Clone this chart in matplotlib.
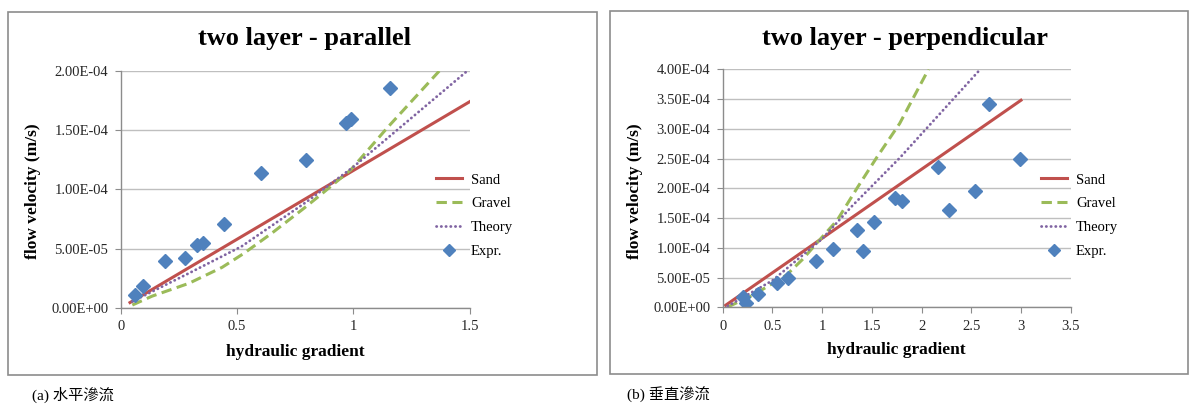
"""Two-layer seepage tests: flow velocity vs hydraulic gradient (parallel / perpendicular)."""

import matplotlib

matplotlib.use("Agg")
import matplotlib.pyplot as plt
from matplotlib.patches import Rectangle
from matplotlib.ticker import FuncFormatter, MultipleLocator

plt.rcParams.update({
    "font.family": ["Liberation Serif", "Noto Sans CJK TC"],
    "axes.linewidth": 1.0,
})

# values in 1e-6 m/s
# (a) parallel
par_sand_i = [0.04, 1.5]
par_sand_v = [4.6, 174.0]
par_gravel_i = [0.05, 0.135, 0.293, 0.436, 0.529, 0.649, 0.787, 0.859, 0.989, 1.146, 1.37]
par_gravel_v = [2.5, 10.0, 20.8, 34.3, 46.0, 63.0, 84.0, 95.4, 116.5, 152.0, 200.0]
par_theory_i = [0.05, 0.3, 0.52, 0.8, 1.0, 1.49]
par_theory_v = [5.5, 30.0, 52.0, 89.7, 119.0, 200.0]
par_expr_i = [0.061, 0.097, 0.189, 0.277, 0.329, 0.356, 0.446, 0.605, 0.798, 0.969, 0.990, 1.156]
par_expr_v = [10.8, 18.7, 39.8, 42.5, 52.8, 55.2, 70.7, 114.3, 125.3, 155.9, 159.3, 186.0]

# (b) perpendicular
perp_sand_i = [0.03, 3.0]
perp_sand_v = [3.5, 348.0]
perp_gravel_i = [0.05, 0.3, 0.64, 0.8, 1.0, 1.15, 1.35, 1.55, 1.78, 2.07]
perp_gravel_v = [0.5, 20.0, 54.0, 80.0, 118.0, 146.0, 200.0, 252.0, 309.0, 400.0]
perp_theory_i = [0.05, 0.5, 1.0, 1.3, 1.78, 2.58]
perp_theory_v = [2.0, 45.0, 115.0, 170.0, 251.0, 398.0]
perp_expr_i = [0.208, 0.235, 0.352, 0.543, 0.654, 0.939, 1.113, 1.351, 1.408, 1.525,
               1.737, 1.804, 2.169, 2.28, 2.541, 2.675, 2.99]
perp_expr_v = [16.8, 7.8, 21.8, 41.5, 49.3, 77.9, 97.5, 130.0, 94.7, 143.4,
               183.2, 178.7, 235.9, 164.1, 196.1, 341.7, 249.9]

SAND = "#C0504D"
GRAVEL = "#9BBB59"
THEORY = "#8064A2"
EXPR = "#4F81BD"
GRID = "#BFBFBF"
FRAME = "#8C8C8C"

W, H = 1190, 405


def fx(px):
    return px / W


def fy(py):
    return 1 - py / H


def panel(fig, rect, frame, title, title_x, xmax, ymax, data, leg_x, lab_x, lab_y, ylab_x):
    fig.patches.append(Rectangle((fx(frame[0]), fy(frame[3])),
                                 fx(frame[2] - frame[0]), (frame[3] - frame[1]) / H,
                                 transform=fig.transFigure, fill=False,
                                 edgecolor=FRAME, lw=1.2))
    ax = fig.add_axes(rect)
    si, sv, gi, gv, ti, tv, ei, ev = data
    scale = 1e-6
    ax.plot(si, [v * scale for v in sv], color=SAND, lw=2.2, label="Sand")
    ax.plot(gi, [v * scale for v in gv], color=GRAVEL, lw=2.2,
            linestyle=(0, (3.4, 1.8)), label="Gravel")
    ax.plot(ti, [v * scale for v in tv], color=THEORY, lw=2.0,
            linestyle=(0, (0.1, 1.6)), dash_capstyle="round", label="Theory")
    ax.plot(ei, [v * scale for v in ev], linestyle="none", marker="D",
            color=EXPR, ms=7.5, label="Expr.")

    ax.set_xlim(0, xmax)
    ax.set_ylim(0, ymax)
    ax.xaxis.set_major_locator(MultipleLocator(0.5))
    ax.yaxis.set_major_locator(MultipleLocator(5e-5))
    ax.xaxis.set_major_formatter(FuncFormatter(lambda v, p: f"{v:g}"))
    ax.yaxis.set_major_formatter(FuncFormatter(lambda v, p: f"{v:.2E}"))
    ax.grid(True, axis="y", color=GRID, lw=1.0)
    ax.set_axisbelow(True)
    for s in ("top", "right"):
        ax.spines[s].set_visible(False)
    for s in ("left", "bottom"):
        ax.spines[s].set_color(FRAME)
    ax.tick_params(axis="both", direction="out", length=4, color=FRAME,
                   labelsize=10.5, labelcolor="#262626", pad=5)

    fig.text(fx(title_x), fy(39), title, ha="center", va="center",
             fontsize=19, fontweight="bold")
    fig.text(fx(lab_x), fy(lab_y), "hydraulic gradient", ha="center", va="center",
             fontsize=12.5, fontweight="bold")
    fig.text(fx(ylab_x), fy(191), "flow velocity (m/s)", ha="center", va="center",
             rotation=90, fontsize=12.5, fontweight="bold")

    leg = ax.legend(loc="center left", bbox_to_anchor=(fx(leg_x), fy(215.5)),
                    bbox_transform=fig.transFigure, frameon=False, fontsize=10.5,
                    handlelength=1.8, handletextpad=0.6, labelspacing=0.72,
                    borderpad=0, borderaxespad=0, markerscale=0.75)
    return ax


fig = plt.figure(figsize=(W / 100, H / 100), dpi=100)

panel(fig, [fx(120.7), fy(308), (469.5 - 120.7) / W, (308 - 71) / H],
      (8, 12, 597, 375), "two layer - parallel", 304, 1.5, 2e-4,
      (par_sand_i, par_sand_v, par_gravel_i, par_gravel_v,
       par_theory_i, par_theory_v, par_expr_i, par_expr_v),
      436, 295, 352, 33)

panel(fig, [fx(722.7), fy(307.3), (1070.7 - 722.7) / W, (307.3 - 69.3) / H],
      (610, 11, 1188, 374), "two layer - perpendicular", 905, 3.5, 4e-4,
      (perp_sand_i, perp_sand_v, perp_gravel_i, perp_gravel_v,
       perp_theory_i, perp_theory_v, perp_expr_i, perp_expr_v),
      1041, 896, 350, 635)

fig.text(fx(32), fy(395), "(a) 水平滲流", ha="left", va="center", fontsize=11)
fig.text(fx(627), fy(395), "(b) 垂直滲流", ha="left", va="center", fontsize=11)

fig.savefig("out.png", dpi=100)
